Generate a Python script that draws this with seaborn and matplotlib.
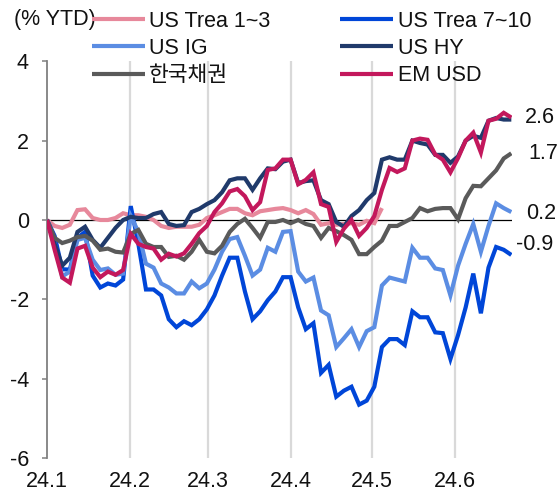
import numpy as np
import pandas as pd
import matplotlib
matplotlib.use("Agg")
import matplotlib.pyplot as plt
import seaborn as sns

# ---------------- data ----------------
dates = pd.date_range("2024-01-01", "2024-06-22", periods=62)

series_names = ["US Trea 1~3", "US Trea 7~10", "US IG", "US HY", "한국채권", "EM USD"]
series_colors = ["#E7889B", "#0046D8", "#5B8DE3", "#203A6B", "#5A5A5A", "#C3185C"]

nan = np.nan
us_trea_1_3 = [0, -0.15, -0.2, -0.12, 0.25, 0.27, 0.05, 0, 0, 0.05,
               0.17, 0.12, 0.12, 0.08, 0.0, -0.15, -0.2, -0.17, -0.17, -0.17,
               -0.12, 0.05, 0.12, 0.2, 0.28, 0.28, 0.17, 0.12, 0.22, 0.25,
               0.28, 0.3, 0.25, 0.17, 0.25, 0.15, -0.12, -0.08, -0.12, -0.1,
               -0.08, -0.12, -0.02, -0.08, 0.3] + [nan] * 17
us_trea_7_10 = [0, -0.4, -1.24, -1.25, -0.45, -0.3, -1.4, -1.7, -1.6, -1.65,
                -1.5, 0.35, -0.6, -1.75, -1.75, -1.9, -2.5, -2.7, -2.55, -2.65,
                -2.5, -2.25, -1.9, -1.4, -0.95, -0.95, -1.8, -2.5, -2.3, -2.02,
                -1.8, -1.44, -1.44, -2.2, -2.75, -2.6, -3.85, -3.65, -4.45, -4.3,
                -4.2, -4.65, -4.55, -4.2, -3.2, -3.0, -3.0, -3.15, -2.3, -2.45,
                -2.45, -2.83, -2.85, -3.5, -2.9, -2.2, -1.35, -2.35, -1.2, -0.68,
                -0.75, -0.88]
us_ig = [0, -0.6, -1.42, -1.3, -0.5, -0.45, -1.0, -1.26, -1.22, -1.38,
         -1.35, 0.1, -0.3, -1.1, -1.2, -1.6, -1.7, -1.85, -1.85, -1.55,
         -1.72, -1.6, -1.25, -0.8, -0.48, -0.43, -0.9, -1.4, -1.25, -0.7,
         -0.8, -0.3, -0.28, -1.3, -1.55, -1.45, -2.28, -2.4, -3.2, -2.98,
         -2.75, -3.2, -2.8, -2.7, -1.65, -1.45, -1.5, -1.55, -0.7, -0.95,
         -0.95, -1.22, -1.26, -1.9, -1.15, -0.6, -0.1, -0.8, -0.15, 0.42,
         0.3, 0.2]
us_hy = [0, -0.6, -1.15, -0.95, -0.3, -0.17, -0.5, -0.7, -0.45, -0.2,
         0.0, 0.08, 0.05, 0.05, 0.15, 0.2, -0.1, -0.15, -0.13, 0.2,
         0.28, 0.4, 0.5, 0.7, 1.0, 1.05, 1.05, 0.76, 1.05, 1.3,
         1.28, 1.47, 1.52, 0.93, 0.98, 1.0, 0.5, 0.4, -0.05, -0.17,
         0.1, 0.25, 0.5, 0.68, 1.52, 1.58, 1.52, 1.52, 2.0, 1.94,
         1.9, 1.64, 1.64, 1.44, 1.6, 2.0, 2.12, 2.07, 2.5, 2.57,
         2.53, 2.53]
korea = [0, -0.45, -0.58, -0.52, -0.43, -0.4, -0.52, -0.75, -0.72, -0.8,
         -0.82, -0.35, -0.25, -0.6, -0.68, -0.68, -0.93, -0.9, -1.0, -0.8,
         -0.5, -0.8, -0.84, -0.65, -0.3, -0.1, 0.03, -0.2, -0.45, -0.05,
         -0.05, 0.0, -0.08, 0.0, -0.1, -0.15, -0.45, -0.2, -0.28, -0.38,
         -0.5, -0.86, -0.86, -0.68, -0.52, -0.15, -0.15, -0.05, 0.05, 0.3,
         0.22, 0.28, 0.3, 0.3, 0.02, 0.55, 0.86, 0.85, 1.05, 1.25,
         1.55, 1.68]
em_usd = [0, -0.75, -1.45, -1.58, -0.72, -0.65, -1.2, -1.44, -1.3, -1.38,
          -1.26, -0.35, -0.6, -0.68, -0.72, -1.0, -0.85, -0.92, -0.84, -0.6,
          -0.33, -0.15, 0.2, 0.42, 0.72, 0.78, 0.6, 0.25, 0.45, 1.26,
          1.3, 1.52, 1.52, 0.9, 1.01, 1.2, 0.4, 0.33, -0.55, -0.22,
          0.0, -0.4, -0.2, 0.1, 0.76, 1.31, 1.21, 1.3, 2.0, 2.05,
          2.02, 1.65, 1.52, 1.2, 1.56, 2.0, 2.2, 1.7, 2.5, 2.55,
          2.7, 2.58]

all_values = [us_trea_1_3, us_trea_7_10, us_ig, us_hy, korea, em_usd]

x_tick_dates = ["2024-01-01", "2024-02-01", "2024-03-01", "2024-04-01", "2024-05-01", "2024-06-01"]
x_tick_labels = ["24.1", "24.2", "24.3", "24.4", "24.5", "24.6"]
y_ticks = [-6, -4, -2, 0, 2, 4]

# end labels: (series index, text)
end_labels = [(5, "2.6"), (4, "1.7"), (2, "0.2"), (1, "-0.9")]

# ---------------- style ----------------
sns.set_style("white")
plt.rcParams["font.family"] = ["Liberation Sans", "Noto Sans CJK KR", "DejaVu Sans"]
plt.rcParams["axes.unicode_minus"] = False

FS = 15.5
TXT = "#111111"

df = pd.DataFrame({
    "date": np.tile(dates, len(series_names)),
    "series": np.repeat(series_names, len(dates)),
    "value": np.concatenate([np.asarray(v, dtype=float) for v in all_values]),
})

W, H = 557, 497
fig = plt.figure(figsize=(W / 100, H / 100), dpi=100)
ax = fig.add_axes([47 / W, (H - 458.2) / H, 465 / W, 397 / H])

sns.lineplot(data=df, x="date", y="value", hue="series", hue_order=series_names,
             palette=dict(zip(series_names, series_colors)), linewidth=3.0,
             estimator=None, sort=False, legend=False, ax=ax, zorder=3)
lines = ax.get_lines()[:len(series_names)]
for ln in lines:
    ln.set_solid_capstyle("butt")
    ln.set_solid_joinstyle("miter")

ax.set_xlim(pd.Timestamp("2024-01-01"), pd.Timestamp("2024-06-22 06:00"))
ax.set_ylim(-6, 4)

# month gridlines and zero line
for d in x_tick_dates[1:]:
    ax.axvline(pd.Timestamp(d), color="#D9D9D9", lw=1.6, zorder=1)
ax.axhline(0, color="black", lw=0.9, zorder=2)

ax.set_xticks([pd.Timestamp(d) for d in x_tick_dates])
ax.set_xticklabels(x_tick_labels)
ax.set_yticks(y_ticks)
ax.set_yticklabels([str(t) for t in y_ticks])
ax.tick_params(axis="x", length=0, pad=9, labelsize=FS, colors=TXT)
ax.tick_params(axis="y", length=3.6, width=1.1, color="#808080", pad=9.5,
               labelsize=FS, labelcolor=TXT, direction="out", left=True)
ax.set_xlabel("")
ax.set_ylabel("")
for s in ["top", "right", "bottom"]:
    ax.spines[s].set_visible(False)
ax.spines["left"].set_color("#808080")
ax.spines["left"].set_linewidth(1.3)
ax.grid(False)

# legend (column-first order)
order = [0, 2, 4, 1, 3, 5]
leg = fig.legend([lines[i] for i in order], [series_names[i] for i in order],
                 loc="upper left", bbox_to_anchor=(92 / W, 1 - 11 / H), ncol=2,
                 frameon=False, fontsize=FS, handlelength=2.45, handletextpad=0.21,
                 columnspacing=3.25, labelspacing=0.28, borderpad=0, borderaxespad=0)
for t in leg.get_texts():
    t.set_color(TXT)

fig.text(14 / W, 1 - 20 / H, "(% YTD)", ha="left", va="center", fontsize=FS, color=TXT)

offsets = {"2.6": (14, 0), "1.7": (17, 0), "0.2": (15, -1), "-0.9": (5, 10)}
for idx, txt in end_labels:
    yv = all_values[idx][-1]
    dx, dy = offsets[txt]
    ax.annotate(txt, xy=(dates[-1], yv), xytext=(dx, dy), textcoords="offset pixels",
                ha="left", va="center", fontsize=FS, color=TXT, annotation_clip=False)

fig.savefig("out.png", dpi=100)
